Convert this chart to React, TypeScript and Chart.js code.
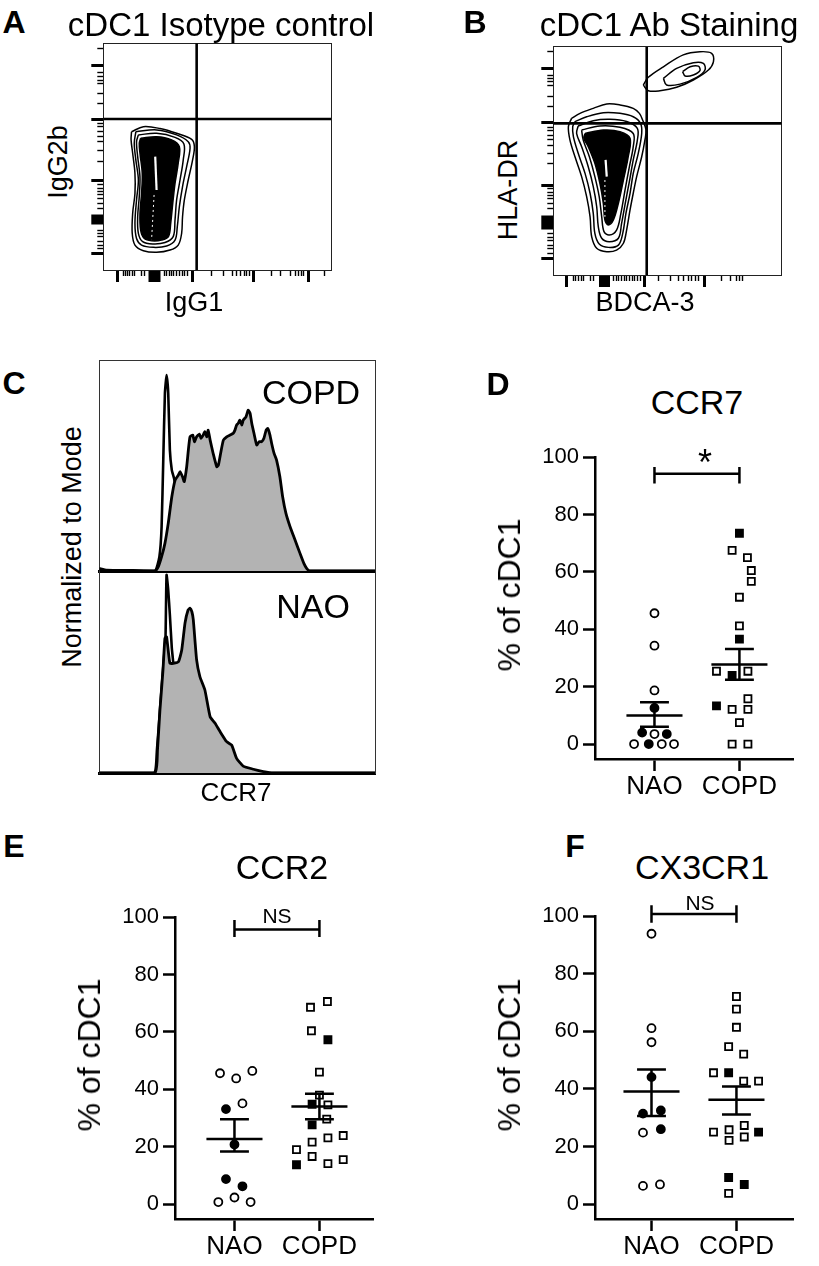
import React, { useEffect, useRef } from "react";
import { Chart, registerables } from "chart.js";
Chart.register(...registerables);

const FONT = '"Liberation Sans", Arial, Helvetica, sans-serif';

// ---------------- Panels D, E, F (dot plots) ----------------
const groups = ["NAO", "COPD"];
const yTickValues = [0, 20, 40, 60, 80, 100];

// D: CCR7
const ccr7NaoOpenX = [1, 1, 1, 1, 0.76, 1.086, 1.23];
const ccr7NaoOpenY = [45.6, 34.3, 18.7, 3.5, 0, 0, 0];
const ccr7NaoFillX = [1, 0.855, 1.145, 0.933];
const ccr7NaoFillY = [12.6, 4.0, 3.5, 0];
const ccr7CopdOpenX = [1.914, 2.094, 2.14, 2.14, 2, 2, 1.73, 2.1, 2.1, 1.914, 2.1, 2, 1.914, 2.1];
const ccr7CopdOpenY = [67.5, 65, 60.5, 56.7, 51.2, 41.2, 25.4, 25.4, 15.8, 12.1, 12.1, 7.5, 0, 0];
const ccr7CopdFillX = [2, 2, 1.914, 1.73];
const ccr7CopdFillY = [73.5, 36.6, 23.9, 13.3];
const ccr7Mean = [10.0, 27.7];
const ccr7SemLow = [6.0, 22.4];
const ccr7SemHigh = [14.6, 33.1];
const ccr7Bracket = [94.2, 90.8, 96.6];

// E: CCR2
const ccr2NaoOpenX = [0.83, 1.02, 1.21, 1.094, 0.81, 1, 1.19];
const ccr2NaoOpenY = [45.6, 43.8, 46.4, 35.1, 0.7, 2.3, 0.7];
const ccr2NaoFillX = [0.9, 1, 0.9, 1.094];
const ccr2NaoFillY = [33.1, 20.8, 8.7, 6.2];
const ccr2CopdOpenX = [1.895, 2.094, 1.906, 2, 2, 2.1, 2.086, 1.73, 1.914, 2.1, 2.28, 1.914, 2.1, 2.28];
const ccr2CopdOpenY = [68.6, 70.6, 60.4, 46, 38, 34.6, 29.6, 19, 21.6, 23.1, 23.9, 16.6, 14.1, 15.5];
const ccr2CopdFillX = [2.1, 1.914, 1.914, 1.73];
const ccr2CopdFillY = [57.3, 34.8, 27.6, 13.7];
const ccr2Mean = [22.7, 34.0];
const ccr2SemLow = [18.3, 29.6];
const ccr2SemHigh = [29.6, 38.5];
const ccr2Bracket = [95.7, 93.1, 99.0];

// F: CX3CR1
const cx3NaoOpenX = [1, 1, 1, 0.9, 0.9, 1.1];
const cx3NaoOpenY = [93.9, 61.1, 56.2, 24.8, 6.3, 6.8];
const cx3NaoFillX = [1, 0.9, 1.11, 1.11];
const cx3NaoFillY = [44.1, 31.4, 32.5, 26];
const cx3CopdOpenX = [2, 2, 2, 1.908, 2.085, 1.73, 2.085, 2.26, 1.73, 1.913, 1.913, 2.092, 2.092, 1.908];
const cx3CopdOpenY = [72.1, 67.7, 61.4, 54.7, 52.1, 45.6, 42.7, 42.7, 25, 25.8, 22.1, 27.3, 23.3, 3.7];
const cx3CopdFillX = [1.908, 2.26, 1.908, 2.092];
const cx3CopdFillY = [45.6, 25, 9.2, 6.8];
const cx3Mean = [39.1, 36.2];
const cx3SemLow = [30.6, 31.1];
const cx3SemHigh = [46.7, 40.8];
const cx3Bracket = [100.8, 97.7, 103.8];

// ---------------- Panel C (histograms) ----------------
const histCopdX = [0, 20.2, 21.4, 22.6, 23.8, 25.0, 26.3, 27.5, 28.7, 29.3, 30.2, 30.8, 31.7, 32.3, 32.9, 33.9, 34.5, 35.3, 36.3, 36.9, 37.7, 38.3, 39.0, 39.5, 40.2, 41.3, 42.6, 43.2, 44.0, 45.0, 46.2, 47.4, 48.6, 49.2, 49.8, 50.4, 51.0, 51.7, 52.2, 53.2, 54.0, 54.7, 55.3, 56.1, 57.1, 58.0, 58.9, 59.7, 60.5, 61.1, 61.9, 62.5, 63.4, 64.3, 65.5, 66.5, 67.7, 69.2, 71.0, 72.8, 74.2, 75.2, 76.4, 100];
const histCopdY = [0, 0, 2.2, 7.3, 14.1, 24.3, 37.9, 46.4, 49, 50.7, 48.1, 45.6, 53.2, 61.7, 68.5, 69.4, 66, 68.5, 69.9, 67.7, 69.4, 71.1, 68.5, 71.9, 66.8, 60, 53.2, 54.1, 60, 66.8, 68.5, 69.4, 70.3, 71.9, 74.5, 75.4, 77, 74.5, 77, 78.7, 82.1, 80.5, 75.4, 70.3, 64.3, 66, 66, 67.7, 71.9, 72.8, 69.4, 65.2, 60, 56.6, 48.1, 37.9, 29.4, 22.6, 15.8, 9, 3.9, 1.4, 0, 0];
const isoCopdX = [0, 2.7, 12.3, 20.2, 21.8, 22.6, 23.2, 23.8, 24.4, 25.0, 25.6, 26.3, 27.1, 29.3, 31.7, 100];
const isoCopdY = [1.4, 0.5, 0.3, 0, 7.3, 22.6, 56.6, 90.7, 100, 90.7, 61.7, 51.5, 47.3, 31, 0, 0];
const histNaoX = [0, 20.2, 21.1, 22.0, 23.1, 23.8, 24.4, 25.6, 26.8, 28.7, 29.9, 31.1, 32.2, 32.9, 33.6, 34.1, 35.3, 36.5, 38.3, 40.2, 42.0, 43.8, 46.2, 48.0, 49.8, 52.2, 55.9, 59.5, 63.1, 100];
const histNaoY = [0, 0, 11.6, 31.8, 52, 68, 68.8, 55.4, 55.4, 56.2, 62.1, 75.8, 82.3, 83.2, 81.3, 77.3, 57.1, 48.6, 41.9, 28.4, 25.1, 20.9, 15.8, 14.1, 7.4, 3.5, 1.9, 0.7, 0, 0];
const isoNaoX = [0, 19.8, 20.9, 22.0, 23.1, 24.0, 24.2, 24.4, 25.0, 25.6, 26.3, 26.8, 27.8, 29.3, 100];
const isoNaoY = [0, 0, 11.6, 31.8, 52, 68, 85, 100, 92.4, 79.8, 63.1, 56, 36.9, 0, 0];

// ---------------- Panels A, B (contour plots) ----------------
const isoGateX = 41.0;
const isoGateY = 66.6;
const isoRing1X = [12.4, 17.6, 24.9, 32.2, 38.8, 40.0, 39.2, 37.3, 35.6, 34.8, 34.4, 32.9, 29.3, 23.4, 17.6, 13.9, 12.7, 12.9, 13.9, 13.9, 12.9, 12.2];
const isoRing1Y = [61.0, 63.2, 62.4, 60.3, 57.6, 54.4, 48.5, 39.7, 30.9, 23.5, 16.2, 11.0, 8.8, 7.8, 8.5, 11.0, 16.2, 25.0, 33.8, 42.6, 51.5, 57.4];
const isoRing2X = [14.3, 23.4, 32.2, 37.3, 38.1, 36.6, 34.8, 33.4, 32.5, 31.5, 27.8, 22.0, 16.8, 14.6, 13.9, 14.6, 15.4, 14.3, 13.6];
const isoRing2Y = [61.0, 61.8, 59.6, 56.6, 53.7, 45.6, 36.8, 27.9, 19.1, 13.2, 10.6, 10.0, 11.0, 13.9, 20.6, 30.9, 39.7, 48.5, 55.9];
const isoRing3X = [15.4, 23.4, 31.5, 35.4, 35.1, 33.7, 32.2, 31.5, 30.7, 27.1, 21.7, 17.3, 15.4, 15.1, 15.8, 16.1, 15.1, 14.6];
const isoRing3Y = [59.6, 60.3, 58.5, 55.6, 48.5, 39.7, 30.9, 22.1, 14.7, 12.1, 11.5, 12.5, 16.2, 23.5, 32.4, 41.2, 50.0, 56.6];
const isoCoreX = [16.4, 23.4, 30.0, 33.4, 32.9, 31.5, 30.5, 29.6, 28.6, 25.6, 21.2, 17.9, 16.4, 16.1, 16.8, 17.1, 16.1, 15.8];
const isoCoreY = [58.1, 58.8, 57.4, 54.4, 47.1, 38.2, 29.4, 20.6, 14.7, 13.2, 12.9, 14.0, 17.6, 25.0, 33.8, 42.6, 51.5, 55.9];
const isoStreakX = [22.8, 23.4, 22.3, 21.2];
const isoStreakY = [50.0, 35.3, 33.1, 13.2];

const abGateX = 40.9;
const abGateY = 66.4;
const abRing1X = [8.0, 11.7, 17.5, 23.4, 29.2, 35.0, 37.7, 39.1, 40.6, 40.1, 38.7, 36.5, 35.0, 33.6, 32.1, 30.7, 27.7, 23.4, 19.0, 16.8, 16.1, 14.6, 12.4, 9.5, 7.3, 6.6];
const abRing1Y = [68.6, 70.8, 73.0, 74.9, 74.5, 73.0, 70.8, 67.9, 63.5, 59.1, 51.8, 43.1, 35.8, 28.5, 19.7, 13.9, 10.9, 10.2, 11.7, 16.8, 25.5, 34.3, 43.1, 51.8, 59.1, 65.0];
const abRing2X = [9.5, 14.6, 21.9, 29.2, 35.0, 38.2, 38.7, 37.2, 35.0, 33.6, 31.8, 30.4, 28.5, 24.1, 20.1, 18.2, 17.5, 16.1, 13.9, 10.9, 8.8, 8.5];
const abRing2Y = [67.2, 69.3, 71.1, 70.8, 69.3, 66.4, 62.0, 53.3, 44.5, 35.8, 27.0, 18.2, 13.1, 12.1, 13.6, 18.2, 27.0, 35.8, 44.5, 53.3, 60.6, 65.0];
const abRing3X = [10.9, 17.5, 24.8, 32.1, 36.8, 36.8, 35.0, 33.3, 31.5, 29.9, 28.5, 24.5, 21.2, 19.7, 19.0, 17.5, 15.3, 12.4, 10.2];
const abRing3Y = [65.3, 67.6, 68.2, 67.2, 64.2, 59.1, 50.4, 40.9, 31.4, 22.6, 16.1, 14.6, 16.1, 21.2, 29.9, 38.7, 47.4, 56.2, 62.0];
const abRing4X = [12.4, 20.4, 29.2, 35.0, 35.0, 33.3, 31.4, 29.6, 27.7, 24.5, 22.2, 21.2, 20.1, 18.2, 15.8, 13.1];
const abRing4Y = [63.5, 65.3, 64.7, 62.0, 56.2, 47.4, 37.2, 27.0, 19.7, 17.5, 19.0, 25.5, 34.3, 43.1, 51.8, 59.1];
const abCoreX = [13.9, 21.9, 29.2, 33.6, 32.8, 30.7, 28.5, 26.3, 24.1, 22.6, 21.9, 20.4, 18.2, 15.3, 13.4];
const abCoreY = [62.0, 63.5, 62.8, 59.9, 51.8, 41.6, 31.4, 24.1, 21.9, 24.1, 31.4, 40.1, 48.9, 56.2, 59.9];
const abStreakX = [22.9, 23.4, 22.6, 22.6];
const abStreakY = [50.4, 43.1, 41.6, 25.5];
const abPosRing1X = [39.4, 41.6, 48.2, 56.9, 64.2, 69.3, 70.1, 67.9, 61.3, 54.0, 46.7, 41.6];
const abPosRing1Y = [83.2, 86.6, 91.2, 96.4, 97.8, 97.1, 93.4, 89.8, 85.4, 82.2, 80.7, 80.7];
const abPosRing2X = [48.2, 54.0, 61.3, 65.7, 66.4, 62.8, 55.5, 49.6];
const abPosRing2Y = [86.1, 90.5, 93.0, 92.7, 89.8, 86.6, 83.6, 83.2];
const abPosRing3X = [56.6, 59.9, 63.5, 64.2, 61.3, 57.7];
const abPosRing3Y = [89.1, 91.2, 91.5, 89.5, 87.6, 87.2];

// axis tick positions (percent of axis)
const isoXMajor = [6.3, 22.5, 39.0, 65.9, 89.9];
const isoXMajorW = [3, 12, 3, 3, 3];
const isoXMinor = [8.8, 9.8, 10.7, 11.7, 12.7, 13.9, 16.9, 18.0, 26.7, 27.8, 29.0, 30.0, 31.0, 32.2, 33.4, 34.6, 35.7, 36.9, 47.6, 52.7, 56.8, 58.6, 60.3, 61.8, 63.0, 64.1, 74.0, 78.0, 82.0, 84.2, 85.6, 87.1, 88.1, 97.1];
const isoYMajor = [90, 66.3, 39.7, 22.1, 7.1];
const isoYMajorW = [3, 3, 3, 10, 3];
const isoYMinor = [97.5, 87.3, 85.3, 83.8, 82.4, 77.9, 73.5, 64.7, 63.2, 61.0, 58.8, 56.6, 52.9, 47.8, 37.5, 36.0, 34.5, 33.1, 31.6, 29.4, 27.2, 17.6, 16.2, 14.7, 12.5, 11.0, 9.6];
const abXMajor = [5.9, 22.5, 40.1, 66.0];
const abXMajorW = [3, 11, 3, 3];
const abXMinor = [8.8, 9.9, 11.1, 12.3, 13.4, 16.1, 17.5, 26.3, 27.5, 28.6, 29.8, 31.0, 32.1, 33.3, 34.5, 35.6, 36.8, 38.0, 46.0, 51.4, 54.7, 57.2, 59.0, 60.7, 62.2, 63.7, 73.7, 77.4, 80.3, 81.7, 82.9];
const abYMajor = [90.5, 66.7, 39.4, 23.0, 7.3];
const abYMajorW = [3, 3, 3, 14, 3];
const abYMinor = [97.8, 87.6, 86.2, 84.7, 83.2, 78.1, 73.7, 64.8, 63.2, 61.3, 59.3, 56.9, 53.3, 48.9, 37.7, 36.2, 34.7, 33.3, 31.4, 29.3, 18.0, 16.5, 14.9, 13.1, 11.4, 9.6];

// ---------------- helpers ----------------
const pts = (xs: number[], ys: number[]) => xs.map((x, i) => ({ x, y: ys[i] }));
const closed = (xs: number[], ys: number[]) => {
  const p = pts(xs, ys);
  return [...p, p[0]];
};
const zeroSize = (scale: any) => {
  if (scale.isHorizontal()) scale.height = 0;
  else scale.width = 0;
};
const setTicks = (vals: number[]) => (scale: any) => {
  scale.ticks = vals.map((v) => ({ value: v }));
};

const MEAN_HALF = 0.33;
const CAP_HALF = 0.17;

function dotConfig(p: any) {
  const err: any[] = [];
  for (let i = 0; i < 2; i++) {
    const c = i + 1;
    err.push(
      { x: c - MEAN_HALF, y: p.mean[i] }, { x: c + MEAN_HALF, y: p.mean[i] }, { x: c, y: null },
      { x: c, y: p.lo[i] }, { x: c, y: p.hi[i] }, { x: c, y: null },
      { x: c - CAP_HALF, y: p.hi[i] }, { x: c + CAP_HALF, y: p.hi[i] }, { x: c, y: null },
      { x: c - CAP_HALF, y: p.lo[i] }, { x: c + CAP_HALF, y: p.lo[i] }, { x: c, y: null }
    );
  }
  const [bY, bLo, bHi] = p.bracket;
  const bracket = [
    { x: 1, y: bLo }, { x: 1, y: bHi }, { x: 1, y: null },
    { x: 1, y: bY }, { x: 2, y: bY }, { x: 2, y: null },
    { x: 2, y: bLo }, { x: 2, y: bHi },
  ];
  const lineDs = (data: any[]) => ({
    data, showLine: true, spanGaps: false, borderColor: "#000", borderWidth: 2.5,
    pointRadius: 0, borderCapStyle: "butt", clip: false, tension: 0,
  });
  const pointDs = (data: any[], style: string, filled: boolean) => ({
    data, showLine: false, pointStyle: style, pointRadius: style === "rect" ? 5 : 4,
    pointBorderWidth: 1.8, pointBorderColor: "#000",
    pointBackgroundColor: filled ? "#000" : "#fff",
  });
  const axisGrid = { display: true, drawOnChartArea: false, drawTicks: true, tickLength: 12, tickWidth: 2.5, tickColor: "#000" };
  return {
    type: "scatter",
    data: {
      datasets: [
        lineDs(err),
        lineDs(bracket),
        pointDs(pts(p.copdOpenX, p.copdOpenY), "rect", false),
        pointDs(pts(p.copdFillX, p.copdFillY), "rect", true),
        pointDs(pts(p.naoOpenX, p.naoOpenY), "circle", false),
        pointDs(pts(p.naoFillX, p.naoFillY), "circle", true),
      ],
    },
    options: {
      responsive: false, animation: false, events: [],
      layout: { padding: { top: 15, right: 2, left: 0, bottom: 0 } },
      plugins: { legend: { display: false }, tooltip: { enabled: false } },
      scales: {
        x: {
          type: "linear", min: p.xMin, max: p.xMax,
          afterBuildTicks: setTicks([1, 2]),
          afterFit: (s: any) => { s.height = p.xH; },
          grid: axisGrid,
          border: { display: true, width: 2.5, color: "#000" },
          ticks: { color: "#000", font: { family: FONT, size: 26 }, padding: 0, autoSkip: false, maxRotation: 0,
            callback: (v: any) => groups[Math.round(v) - 1] ?? "" },
        },
        y: {
          type: "linear", min: -5.2, max: 100,
          afterBuildTicks: setTicks(yTickValues),
          afterFit: (s: any) => { s.width = 115; },
          grid: axisGrid,
          border: { display: true, width: 2.5, color: "#000" },
          ticks: { color: "#000", font: { family: FONT, size: 22 }, padding: 4, autoSkip: false },
        },
      },
    },
  };
}

function flowConfig(f: any) {
  const ring = (xs: number[], ys: number[]) => ({
    data: closed(xs, ys), showLine: true, borderColor: "#000", borderWidth: 1.5,
    pointRadius: 0, tension: 0.35, fill: false, borderJoinStyle: "round",
  });
  const datasets: any[] = [
    { data: [{ x: f.gateX, y: 0 }, { x: f.gateX, y: 100 }], showLine: true, borderColor: "#000", borderWidth: 2.6, pointRadius: 0 },
    { data: [{ x: 0, y: f.gateY }, { x: 100, y: f.gateY }], showLine: true, borderColor: "#000", borderWidth: 2.6, pointRadius: 0 },
    { data: pts(f.streakX.slice(0, 2), f.streakY.slice(0, 2)), showLine: true, borderColor: "#fff", borderWidth: 2.2, pointRadius: 0 },
    { data: pts(f.streakX.slice(2), f.streakY.slice(2)), showLine: true, borderColor: "#fff", borderWidth: 1, borderDash: [2, 3], pointRadius: 0 },
    { ...ring(f.coreX, f.coreY), fill: "shape", backgroundColor: "#000" },
    ...f.rings.map((r: number[][]) => ring(r[0], r[1])),
  ];
  const hidden = { display: false };
  const tickScale = (pos: string, vals: number[], widths: number[] | null, len: number, border: boolean) => ({
    type: "linear", position: pos, min: 0, max: 100,
    afterBuildTicks: setTicks(vals), afterFit: zeroSize,
    grid: { display: true, drawOnChartArea: false, drawTicks: true, tickLength: len, tickColor: "#000",
      tickWidth: (ctx: any) => (widths ? widths[ctx.index] ?? 3 : 1.4) },
    border: { display: border, width: 1, color: "#222" },
    ticks: { display: false },
  });
  const borderScale = (pos: string) => ({
    type: "linear", position: pos, min: 0, max: 100, afterFit: zeroSize,
    grid: hidden, ticks: hidden, border: { display: true, width: 1, color: "#222" },
  });
  return {
    type: "scatter",
    data: { datasets },
    options: {
      responsive: false, animation: false, events: [],
      layout: { padding: f.pad },
      plugins: { legend: { display: false }, tooltip: { enabled: false } },
      scales: {
        x: tickScale("bottom", f.xMajor, f.xMajorW, 12, true),
        xm: tickScale("bottom", f.xMinor, null, 6, false),
        xt: borderScale("top"),
        y: tickScale("left", f.yMajor, f.yMajorW, 12, true),
        ym: tickScale("left", f.yMinor, null, 6, false),
        yr: borderScale("right"),
      },
    },
  };
}

function histConfig(h: any) {
  return {
    type: "scatter",
    data: {
      datasets: [
        { data: pts(h.fillX, h.fillY), showLine: true, borderColor: "#000", borderWidth: 2.8, pointRadius: 0,
          fill: "origin", backgroundColor: "#b3b3b3", tension: 0.15, borderJoinStyle: "round" },
        { data: pts(h.isoX, h.isoY), showLine: true, borderColor: "#000", borderWidth: 2.6, pointRadius: 0,
          fill: false, tension: 0.15, borderJoinStyle: "round" },
      ],
    },
    options: {
      responsive: false, animation: false, events: [],
      layout: { padding: h.pad },
      plugins: { legend: { display: false }, tooltip: { enabled: false } },
      scales: {
        x: { type: "linear", position: "bottom", min: 0, max: 100, afterFit: zeroSize,
          grid: { display: false }, ticks: { display: false }, border: { display: true, width: 3, color: "#000" } },
        xt: { type: "linear", position: "top", min: 0, max: 100, afterFit: zeroSize, display: h.topBorder,
          grid: { display: false }, ticks: { display: false }, border: { display: true, width: 1, color: "#333" } },
        y: { type: "linear", position: "left", min: 0, max: h.yMax, afterFit: zeroSize,
          grid: { display: false }, ticks: { display: false }, border: { display: true, width: 1, color: "#333" } },
        yr: { type: "linear", position: "right", min: 0, max: 1, afterFit: zeroSize,
          grid: { display: false }, ticks: { display: false }, border: { display: true, width: 1, color: "#333" } },
      },
    },
  };
}

function ChartBox({ left, top, width, height, make }: any) {
  const ref = useRef<HTMLCanvasElement>(null);
  useEffect(() => {
    const chart = new Chart(ref.current as HTMLCanvasElement, make() as any);
    return () => chart.destroy();
  }, []);
  return (
    <canvas ref={ref} width={width} height={height}
      style={{ position: "absolute", left, top, width, height, display: "block" }} />
  );
}

function Label({ x, y, text, size, bold, rotate }: any) {
  return (
    <div style={{
      position: "absolute", left: x, top: y,
      transform: `translate(-50%, -50%)${rotate ? " rotate(-90deg)" : ""}`,
      fontFamily: FONT, fontSize: size, fontWeight: bold ? "bold" : "normal",
      lineHeight: 1, whiteSpace: "nowrap", color: "#000",
    }}>{text}</div>
  );
}

const panelD = {
  naoOpenX: ccr7NaoOpenX, naoOpenY: ccr7NaoOpenY, naoFillX: ccr7NaoFillX, naoFillY: ccr7NaoFillY,
  copdOpenX: ccr7CopdOpenX, copdOpenY: ccr7CopdOpenY, copdFillX: ccr7CopdFillX, copdFillY: ccr7CopdFillY,
  mean: ccr7Mean, lo: ccr7SemLow, hi: ccr7SemHigh, bracket: ccr7Bracket,
  xMin: 0.3, xMax: 2.633, xH: 41,
};
const panelE = {
  naoOpenX: ccr2NaoOpenX, naoOpenY: ccr2NaoOpenY, naoFillX: ccr2NaoFillX, naoFillY: ccr2NaoFillY,
  copdOpenX: ccr2CopdOpenX, copdOpenY: ccr2CopdOpenY, copdFillX: ccr2CopdFillX, copdFillY: ccr2CopdFillY,
  mean: ccr2Mean, lo: ccr2SemLow, hi: ccr2SemHigh, bracket: ccr2Bracket,
  xMin: 0.3, xMax: 2.633, xH: 47,
};
const panelF = {
  naoOpenX: cx3NaoOpenX, naoOpenY: cx3NaoOpenY, naoFillX: cx3NaoFillX, naoFillY: cx3NaoFillY,
  copdOpenX: cx3CopdOpenX, copdOpenY: cx3CopdOpenY, copdFillX: cx3CopdFillX, copdFillY: cx3CopdFillY,
  mean: cx3Mean, lo: cx3SemLow, hi: cx3SemHigh, bracket: cx3Bracket,
  xMin: 0.335, xMax: 2.668, xH: 47,
};

const panelA = {
  gateX: isoGateX, gateY: isoGateY, streakX: isoStreakX, streakY: isoStreakY,
  coreX: isoCoreX, coreY: isoCoreY,
  rings: [[isoRing3X, isoRing3Y], [isoRing2X, isoRing2Y], [isoRing1X, isoRing1Y]],
  xMajor: isoXMajor, xMajorW: isoXMajorW, xMinor: isoXMinor,
  yMajor: isoYMajor, yMajorW: isoYMajorW, yMinor: isoYMinor,
  pad: { left: 18.3, right: 14, top: 8.3, bottom: 20 },
};
const panelB = {
  gateX: abGateX, gateY: abGateY, streakX: abStreakX, streakY: abStreakY,
  coreX: abCoreX, coreY: abCoreY,
  rings: [[abRing4X, abRing4Y], [abRing3X, abRing3Y], [abRing2X, abRing2Y], [abRing1X, abRing1Y],
    [abPosRing3X, abPosRing3Y], [abPosRing2X, abPosRing2Y], [abPosRing1X, abPosRing1Y]],
  xMajor: abXMajor, xMajorW: abXMajorW, xMinor: abXMinor,
  yMajor: abYMajor, yMajorW: abYMajorW, yMinor: abYMinor,
  pad: { left: 18.3, right: 13.3, top: 8.7, bottom: 18 },
};

const histTop = { fillX: histCopdX, fillY: histCopdY, isoX: isoCopdX, isoY: isoCopdY, yMax: 107.7, topBorder: true,
  pad: { left: 9.3, right: 15, top: 10, bottom: 4 } };
const histBottom = { fillX: histNaoX, fillY: histNaoY, isoX: isoNaoX, isoY: isoNaoY, yMax: 102, topBorder: false,
  pad: { left: 9.3, right: 15, top: 6, bottom: 7 } };

export default function App() {
  return (
    <div style={{ position: "absolute", left: 0, top: 0, width: 819, height: 1266, background: "#fff", overflow: "hidden" }}>
      {/* A */}
      <ChartBox left={85} top={35} width={260} height={255} make={() => flowConfig(panelA)} />
      <Label x={14} y={21.5} text="A" size={32} bold />
      <Label x={221} y={23.5} text="cDC1 Isotype control" size={33} />
      <Label x={58} y={162} text="IgG2b" size={27} rotate />
      <Label x={194} y={302} text="IgG1" size={27} />
      {/* B */}
      <ChartBox left={535} top={38} width={260} height={255} make={() => flowConfig(panelB)} />
      <Label x={475} y={21.5} text="B" size={32} bold />
      <Label x={669} y={23.5} text="cDC1 Ab Staining" size={33} />
      <Label x={508} y={190} text="HLA-DR" size={27} rotate />
      <Label x={645} y={302} text="BDCA-3" size={27} />
      {/* C */}
      <ChartBox left={90} top={350} width={300} height={225} make={() => histConfig(histTop)} />
      <ChartBox left={90} top={565} width={300} height={215} make={() => histConfig(histBottom)} />
      <Label x={14} y={383} text="C" size={32} bold />
      <Label x={72} y={547} text="Normalized to Mode" size={27} rotate />
      <Label x={311} y={392} text="COPD" size={34} />
      <Label x={313} y={606} text="NAO" size={34} />
      <Label x={236} y={792} text="CCR7" size={26} />
      {/* D */}
      <ChartBox left={480} top={440} width={320} height={360} make={() => dotConfig(panelD)} />
      <Label x={498} y={384} text="D" size={32} bold />
      <Label x={697} y={402} text="CCR7" size={34} />
      <Label x={509} y={595} text="% of cDC1" size={32} rotate />
      <Label x={705} y={463} text="*" size={36} />
      {/* E */}
      <ChartBox left={60} top={900} width={320} height={366} make={() => dotConfig(panelE)} />
      <Label x={14} y={846} text="E" size={32} bold />
      <Label x={282} y={867} text="CCR2" size={34} />
      <Label x={89} y={1055} text="% of cDC1" size={32} rotate />
      <Label x={277} y={915} text="NS" size={21} />
      {/* F */}
      <ChartBox left={480} top={899} width={320} height={367} make={() => dotConfig(panelF)} />
      <Label x={575} y={846} text="F" size={32} bold />
      <Label x={702} y={867} text="CX3CR1" size={34} />
      <Label x={509} y={1055} text="% of cDC1" size={32} rotate />
      <Label x={700} y={902} text="NS" size={21} />
    </div>
  );
}
